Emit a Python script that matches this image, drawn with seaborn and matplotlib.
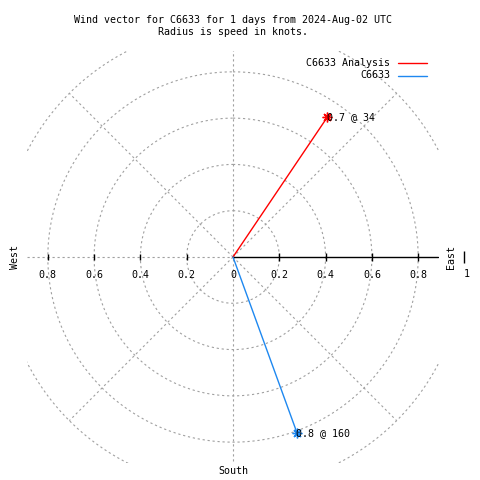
import numpy as np
import pandas as pd
import matplotlib
matplotlib.use("Agg")
import matplotlib.pyplot as plt
from matplotlib.lines import Line2D
import seaborn as sns

# ── Data ──────────────────────────────────────────────────
series        = ["C6633 Analysis", "C6633"]
speed_kt      = [0.73, 0.81]          # radius = speed in knots
direction_deg = [34, 160]             # compass degrees (0 = north, clockwise)
colors        = ["#ff0000", "#1e88f0"]

ring_r     = [0.2, 0.4, 0.6, 0.8, 1.0]
spoke_deg  = [45, 135, 225, 315]
tick_vals  = [0.2, 0.4, 0.6, 0.8]
tick_text  = ["0.2", "0.4", "0.6", "0.8"]

title = ("Wind vector for C6633 for 1 days from 2024-Aug-02 UTC\n"
         "Radius is speed in knots.")

# ── Style ─────────────────────────────────────────────────
sns.set_style("white")
plt.rcParams["font.family"] = ["DejaVu Sans Mono"]
plt.rcParams["text.color"] = "black"
FS = 7.2
GRID = dict(color="#a0a0a0", lw=0.8, ls=(0, (2, 2.5)))

fig = plt.figure(figsize=(4.8, 4.8), dpi=100)
ax = fig.add_axes([27 / 480, 17 / 480, 412 / 480, 412 / 480])
LIM = 0.89
ax.set_xlim(-LIM, LIM)
ax.set_ylim(-LIM, LIM)
ax.set_aspect("equal")
ax.axis("off")

# ── Polar grid ────────────────────────────────────────────
t = np.linspace(0, 2 * np.pi, 361)
for r in ring_r:
    ax.plot(r * np.sin(t), r * np.cos(t), **GRID)
for a in spoke_deg:
    ar = np.radians(a)
    ax.plot([0, np.sin(ar)], [0, np.cos(ar)], **GRID)
ax.plot([0, 0], [-1, 1], **GRID)
ax.plot([-1, 0], [0, 0], **GRID)

# East axis (solid) with ticks
ax.plot([0, LIM * 0.995], [0, 0], color="black", lw=1)
tv = np.array(tick_vals)
ax.plot(tv, np.zeros_like(tv), ls="none", marker="|", ms=6, mew=1, color="black")
ax.plot(-tv, np.zeros_like(tv), ls="none", marker="|", ms=5, mew=1, color="black")
ax.plot([1.0], [0], ls="none", marker="|", ms=8, mew=1, color="black", clip_on=False)

# Tick labels
for v, s in zip(tick_vals, tick_text):
    ax.text(-v, -0.078, s, ha="center", va="center", fontsize=FS)
    ax.text(v, -0.076, s, ha="center", va="center", fontsize=FS)
ax.text(0, -0.078, "0", ha="center", va="center", fontsize=FS)
ax.text(1.01, -0.072, "1", ha="center", va="center", fontsize=FS)

ax.text(0.942, 0, "East", rotation=90, ha="center", va="center", fontsize=FS)
ax.text(-0.942, 0, "West", rotation=90, ha="center", va="center", fontsize=FS)
ax.text(0, -0.924, "South", ha="center", va="center", fontsize=FS)

# ── Wind vectors ──────────────────────────────────────────
rad = np.radians(direction_deg)
tip_x = np.array(speed_kt) * np.sin(rad)
tip_y = np.array(speed_kt) * np.cos(rad)

vec_df = pd.DataFrame({
    "series": np.repeat(series, 2),
    "x": np.ravel(np.column_stack([np.zeros(len(series)), tip_x])),
    "y": np.ravel(np.column_stack([np.zeros(len(series)), tip_y])),
})
pal = dict(zip(series, colors))

sns.lineplot(data=vec_df, x="x", y="y", hue="series", palette=pal,
             sort=False, estimator=None, lw=1, legend=False, ax=ax)
for x, y, c in zip(tip_x, tip_y, colors):
    ax.plot([x], [y], ls="none", marker=(8, 2, 0), ms=7, mew=1, color=c)

for sp, d, x, y in zip(speed_kt, direction_deg, tip_x, tip_y):
    ax.text(x - 0.004, y, f"{sp:.1f} @ {d}", ha="left", va="center", fontsize=FS)

# ── Title & legend ────────────────────────────────────────
fig.text(233 / 480, 1 - 26 / 480, title, ha="center", va="center",
         fontsize=FS, linespacing=1.25)
for i, (s, c) in enumerate(zip(series, colors)):
    yy = 1 - (63 + 12.5 * i) / 480
    fig.text(390 / 480, yy, s, ha="right", va="center", fontsize=FS)
    fig.add_artist(Line2D([398 / 480, 427 / 480], [yy, yy], color=c, lw=1))

ax.set_xlabel("")
ax.set_ylabel("")
fig.savefig("out.png", dpi=100)
